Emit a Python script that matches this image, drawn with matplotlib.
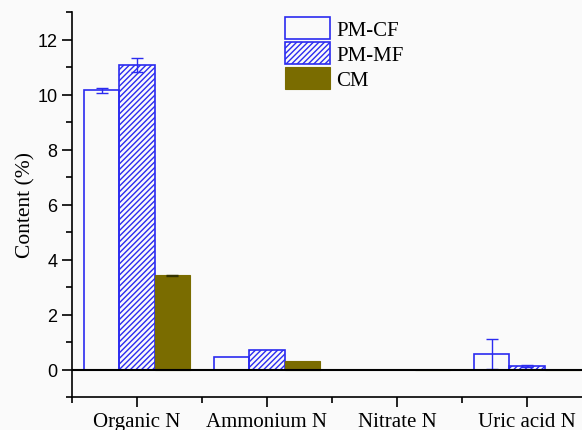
import numpy as np
import matplotlib.pyplot as plt
from matplotlib.ticker import MultipleLocator

categories = ["Organic N", "Ammonium N", "Nitrate N", "Uric acid N"]
series = ["PM-CF", "PM-MF", "CM"]
pm_cf = [10.15, 0.46, 0.0, 0.57]
pm_cf_err = [0.10, 0.0, 0.0, 0.54]
pm_mf = [11.07, 0.70, 0.0, 0.13]
pm_mf_err = [0.25, 0.0, 0.0, 0.03]
cm = [3.42, 0.30, 0.0, 0.0]
cm_err = [0.02, 0.0, 0.0, 0.0]

blue = "#2b2bf0"
olive = "#7a6c00"
serif = "Liberation Serif"

fig = plt.figure(figsize=(5.82, 4.31), dpi=100, facecolor="#fafafa")
ax = fig.add_axes([72/582, 33/431, 520/582, 385/431])
ax.set_facecolor("#fafafa")

x = np.arange(1, len(categories) + 1)
w = 0.27
ax.bar(x - w, pm_cf, w, facecolor="none", edgecolor=blue, linewidth=1.2, label="PM-CF")
ax.bar(x, pm_mf, w, facecolor="none", edgecolor=blue, hatch="//////", linewidth=1.2, label="PM-MF")
ax.bar(x + w, cm, w, facecolor=olive, edgecolor=olive, linewidth=0.8, label="CM")

for xs, ys, es, c in [(x - w, pm_cf, pm_cf_err, blue), (x, pm_mf, pm_mf_err, blue), (x + w, cm, cm_err, "#333300")]:
    m = np.array(es) > 0
    ax.errorbar(np.array(xs)[m], np.array(ys)[m], yerr=np.array(es)[m], fmt="none",
                ecolor=c, elinewidth=1, capsize=4, capthick=1)

# zero line drawn above the bar edges so empty bars vanish
ax.axhline(0, color="black", lw=1.5, zorder=5)

ax.set_xlim(0.5, 4.5)
ax.set_ylim(-1, 13)
ax.spines["top"].set_visible(False)
ax.spines["right"].set_visible(False)
for s in ["left", "bottom"]:
    ax.spines[s].set_linewidth(1.2)

ax.set_xticks(x)
ax.set_xticklabels(categories, fontfamily=serif, fontsize=15)
ax.xaxis.set_minor_locator(MultipleLocator(1, offset=0.5))
ax.yaxis.set_minor_locator(MultipleLocator(1))
ax.set_yticks([0, 2, 4, 6, 8, 10, 12])
ax.tick_params(axis="both", which="major", direction="out", length=7, width=1.2)
ax.tick_params(axis="both", which="minor", direction="out", length=4, width=1.2)
ax.tick_params(axis="y", labelsize=13)
for t in ax.get_yticklabels():
    t.set_fontfamily("Liberation Sans")
ax.set_ylabel("Content (%)", fontfamily=serif, fontsize=15.5, labelpad=1)

ax.legend(loc="upper left", bbox_to_anchor=(0.39, 1.015), frameon=False,
          prop={"family": serif, "size": 15}, handlelength=2.15, handleheight=1.25,
          handletextpad=0.3, labelspacing=0.1, borderaxespad=0.1)

fig.savefig("out.png", dpi=100, facecolor=fig.get_facecolor())
